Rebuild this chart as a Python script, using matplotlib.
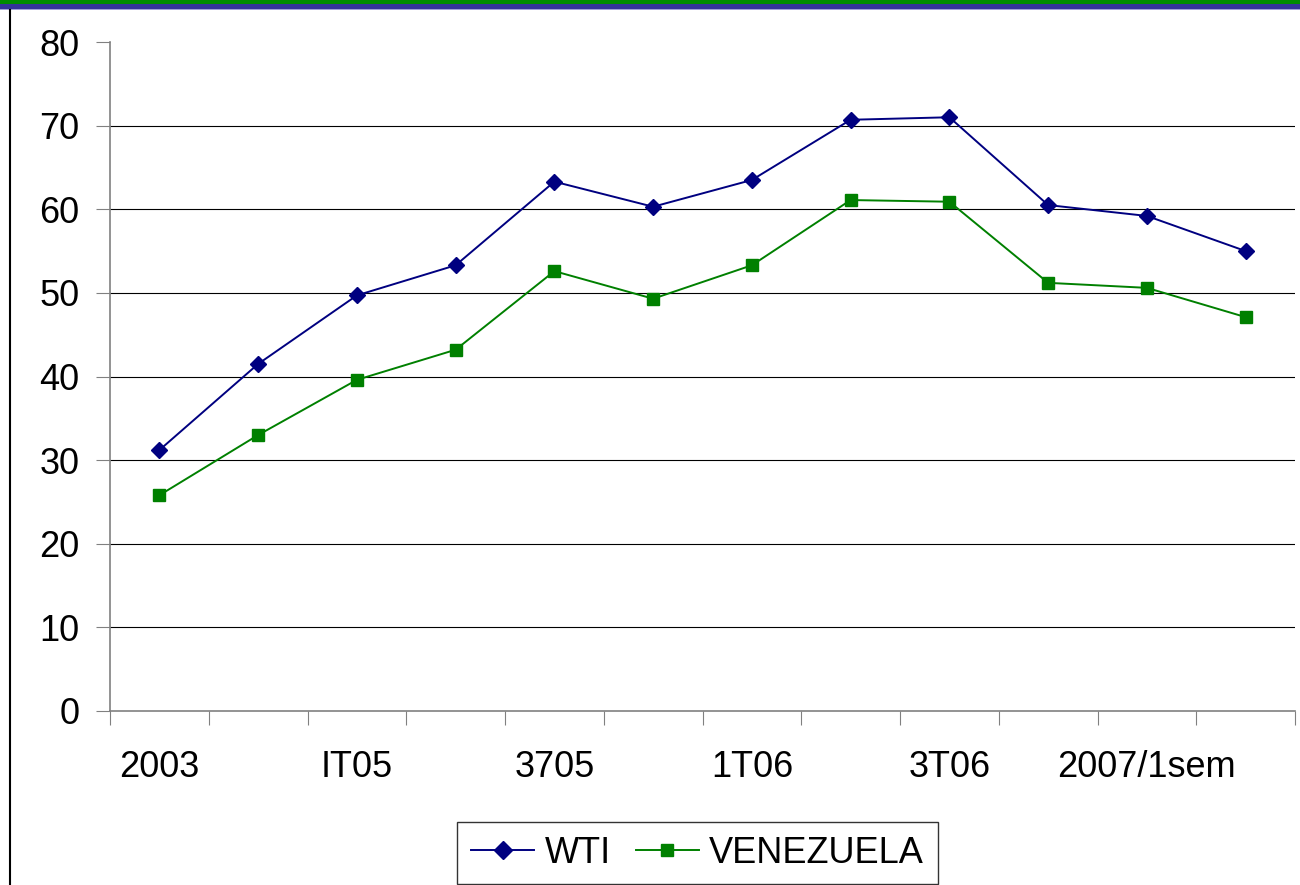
import matplotlib
matplotlib.use("Agg")
import matplotlib.pyplot as plt
from matplotlib.lines import Line2D
from matplotlib.patches import Rectangle

categories = ["2003", "", "IT05", "", "3705", "", "1T06", "", "3T06", "", "2007/1sem", ""]
wti = [31.2, 41.5, 49.7, 53.3, 63.3, 60.3, 63.5, 70.7, 71.0, 60.5, 59.2, 55.0]
venezuela = [25.8, 33.0, 39.6, 43.2, 52.6, 49.3, 53.3, 61.1, 60.9, 51.2, 50.6, 47.1]

plt.rcParams['font.family'] = ['Liberation Sans', 'DejaVu Sans']

fig = plt.figure(figsize=(13, 8.85), dpi=100)
W, H = 1300, 885

# top bands
fig.add_artist(Rectangle((0, 1 - 4 / H), 1, 4 / H, transform=fig.transFigure, color="#008C00", lw=0))
fig.add_artist(Rectangle((0, 1 - 9 / H), 1, 5 / H, transform=fig.transFigure, color="#333399", lw=0))
fig.add_artist(Rectangle((0, 1 - 10 / H), 1, 1 / H, transform=fig.transFigure, color="#A0A0D8", lw=0))
# left vertical line
fig.add_artist(Line2D([9.5 / W, 9.5 / W], [0, 1 - 10 / H], transform=fig.transFigure, color="black", lw=1.5))

ax = fig.add_axes([110 / W, 1 - 711 / H, (1295 - 110) / W, (711 - 42) / H])
n = len(categories)
x = list(range(n))
ax.plot(x, wti, color="#000080", marker="D", markersize=8, lw=1.4, label="WTI")
ax.plot(x, venezuela, color="#008000", marker="s", markersize=8, lw=1.4, label="VENEZUELA")

ax.set_xlim(-0.5, n - 0.5)
ax.set_ylim(0, 80)
ax.set_yticks(range(0, 81, 10))
for v in range(10, 80, 10):
    ax.axhline(v, color="black", lw=0.8, zorder=0)

ax.set_xticks([i - 0.5 for i in range(n + 1)])
ax.set_xticklabels([])
ax.set_xticks(x, minor=True)
ax.set_xticklabels(categories, minor=True)
ax.tick_params(axis="x", which="minor", length=0, pad=28, labelsize=26)
ax.tick_params(axis="x", which="major", length=10, color="#808080", direction="out")
ax.tick_params(axis="y", length=10, color="#808080", direction="out", labelsize=26, pad=12)

for s in ["top", "right"]:
    ax.spines[s].set_visible(False)
for s in ["left", "bottom"]:
    ax.spines[s].set_color("#808080")
    ax.spines[s].set_linewidth(1.2)

leg = ax.legend(loc="upper center", bbox_to_anchor=(0.4958, -0.166), ncol=2, frameon=True,
                fancybox=False, edgecolor="black", fontsize=26, handlelength=1.75,
                handletextpad=0.28, columnspacing=0.7, borderpad=0.38, borderaxespad=0,
                markerscale=1.15)
leg.get_frame().set_linewidth(1.0)

fig.savefig("out.png", dpi=100)
